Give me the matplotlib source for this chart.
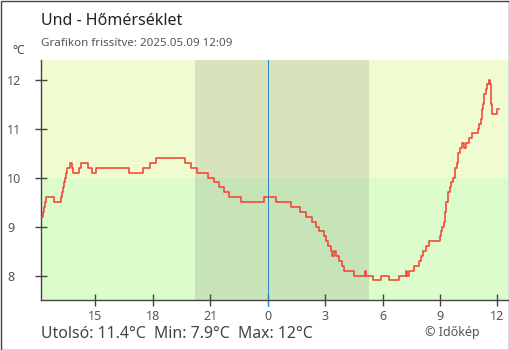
import matplotlib

matplotlib.use("Agg")
import matplotlib.pyplot as plt
from matplotlib.patches import Rectangle

# station readings, yesterday afternoon and today (HH:MM, degC), change points only
prev_day_times = [
    "12:10", "12:15", "12:20", "12:23", "12:25", "12:50", "13:12", "13:15",
    "13:18", "13:22", "13:25", "13:28", "13:33", "13:40", "13:46", "13:49",
    "14:08", "14:14", "14:36", "14:51", "15:02", "16:45", "17:30", "17:50",
    "18:10", "19:40", "20:00", "20:18", "20:52", "21:12", "21:28", "21:44",
    "21:58", "22:35", "23:50",
]
prev_day_temps = [
    9.2, 9.3, 9.4, 9.5, 9.6, 9.5, 9.6, 9.7,
    9.8, 9.9, 10.0, 10.1, 10.2, 10.3, 10.2, 10.1,
    10.2, 10.3, 10.2, 10.1, 10.2, 10.1, 10.2, 10.3,
    10.4, 10.3, 10.2, 10.1, 10.0, 9.9, 9.8, 9.7,
    9.6, 9.5, 9.6,
]
today_times = [
    "00:26", "01:14", "01:40", "02:01", "02:20", "02:33", "02:40", "02:57",
    "03:03", "03:10", "03:17", "03:23", "03:28", "03:33", "03:44", "03:52",
    "03:59", "04:29", "05:05", "05:09", "05:31", "05:55", "06:20", "06:50",
    "07:13", "07:17", "07:22", "07:39", "07:54", "08:02", "08:07", "08:15",
    "08:25", "09:00", "09:04", "09:07", "09:11", "09:15", "09:20", "09:25",
    "09:30", "09:36", "09:42", "09:47", "09:52", "09:57", "10:02", "10:08",
    "10:15", "10:22", "10:30", "10:40", "10:58", "11:03", "11:07", "11:10",
    "11:15", "11:18", "11:23", "11:27", "11:32", "11:36", "11:39", "11:42",
    "12:00", "12:06",
]
today_temps = [
    9.5, 9.4, 9.3, 9.2, 9.1, 9.0, 8.9, 8.8,
    8.7, 8.6, 8.5, 8.4, 8.5, 8.4, 8.3, 8.2,
    8.1, 8.0, 8.1, 8.0, 7.9, 8.0, 7.9, 8.0,
    8.1, 8.0, 8.1, 8.2, 8.3, 8.4, 8.5, 8.6,
    8.7, 8.8, 8.9, 9.0, 9.1, 9.3, 9.5, 9.7,
    9.8, 9.9, 10.0, 10.2, 10.3, 10.5, 10.6, 10.7,
    10.6, 10.7, 10.8, 10.9, 11.0, 11.1, 11.2, 11.4,
    11.5, 11.7, 11.8, 11.9, 12.0, 11.9, 11.5, 11.3,
    11.4, 11.4,
]

sunset = "20:13"
sunrise = "05:19"
warm_threshold = 10.0

x_ticks = [-9, -6, -3, 0, 3, 6, 9, 12]
x_tick_labels = ["15", "18", "21", "0", "3", "6", "9", "12"]
y_ticks = [8, 9, 10, 11, 12]

title = "Und - Hőmérséklet"
subtitle = "Grafikon frissítve: 2025.05.09 12:09"
footer = "Utolsó: 11.4°C  Min: 7.9°C  Max: 12°C"
credit = "© Időkép"

W, H = 510, 350
FONT = ["Noto Sans", "DejaVu Sans"]


def hours(hhmm: str, day_offset: int = 0) -> float:
    h, m = hhmm.split(":")
    return int(h) + int(m) / 60 + 24 * day_offset


def px(x: float, y: float) -> tuple[float, float]:
    # pixel position (from top-left) to figure fraction
    return x / W, 1 - y / H


def main() -> None:
    plt.rcParams["font.family"] = FONT

    t = [hours(s, -1) for s in prev_day_times] + [hours(s) for s in today_times]
    temp = prev_day_temps + today_temps

    fig = plt.figure(figsize=(W / 100, H / 100), dpi=100)
    fig.patch.set_facecolor("white")
    ax = fig.add_axes([41 / W, 50 / H, 467 / W, 240 / H])

    xmin, xmax = -11.833, 12.55
    ymin, ymax = 7.5, 12.4
    ax.set_xlim(xmin, xmax)
    ax.set_ylim(ymin, ymax)

    # day background: warmer band above the threshold
    ax.axhspan(warm_threshold, ymax, color="#eefcd0", lw=0, zorder=0)
    ax.axhspan(ymin, warm_threshold, color="#ddfccb", lw=0, zorder=0)
    # night shading between sunset and sunrise
    n0, n1 = hours(sunset, -1), hours(sunrise)
    ax.fill_between([n0, n1], warm_threshold, ymax, color="#d9e3bb", lw=0, zorder=1)
    ax.fill_between([n0, n1], ymin, warm_threshold, color="#c6e4b8", lw=0, zorder=1)

    ax.axvline(0, ymin=-0.027, ymax=1, color="#2f86c8", lw=0.72, clip_on=False, zorder=2)

    ax.plot(t, temp, drawstyle="steps-post", color="#f44336", lw=1.15, zorder=3)

    for side in ("top", "right"):
        ax.spines[side].set_visible(False)
    for side in ("left", "bottom"):
        ax.spines[side].set_color("#444444")
        ax.spines[side].set_linewidth(1.0)

    ax.set_xticks(x_ticks)
    ax.set_xticklabels(x_tick_labels)
    ax.set_yticks(y_ticks)
    ax.set_yticklabels([str(v) for v in y_ticks])
    ax.tick_params(axis="both", direction="inout", length=9, width=1.0,
                   color="#444444", labelcolor="#555555", labelsize=9)
    ax.tick_params(axis="x", pad=2.5)
    ax.tick_params(axis="y", pad=20)
    for lab in ax.get_yticklabels():
        lab.set_horizontalalignment("left")

    fig.text(*px(41, 25), title, fontsize=11.5, color="#222222", va="baseline")
    fig.text(*px(41, 46), subtitle, fontsize=8.3, color="#555555", va="baseline")
    fig.text(*px(12, 54), "°C", fontsize=8.5, color="#444444", va="baseline")
    fig.text(*px(41, 338), footer, fontsize=11.4, color="#444444", va="baseline")
    fig.text(*px(425, 336), credit, fontsize=9, color="#555555", va="baseline")

    fig.add_artist(Rectangle((0.5 / W, 0.5 / H), 1 - 1.5 / W, 1 - 1.5 / H,
                             transform=fig.transFigure, fill=False,
                             edgecolor="#444444", lw=1.0))

    fig.savefig("out.png", dpi=100)
    plt.close(fig)


if __name__ == "__main__":
    main()
